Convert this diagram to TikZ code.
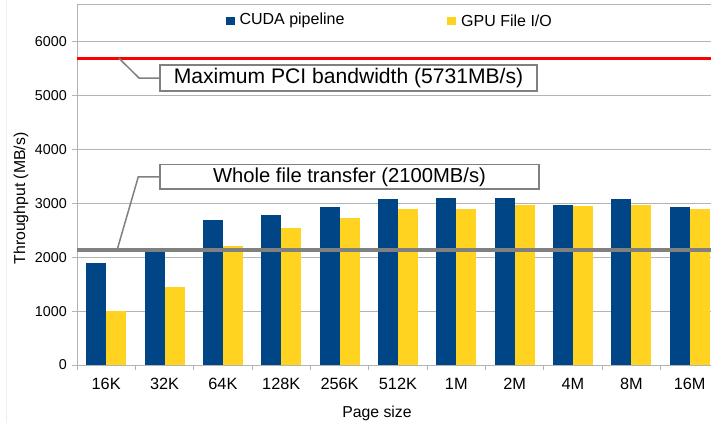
\documentclass[tikz,border=0pt]{standalone}
\usepackage{fontspec}
\setmainfont{Liberation Sans}
\definecolor{cudablue}{HTML}{004586}
\definecolor{gpuyellow}{HTML}{FFD320}
\definecolor{gridgray}{HTML}{B3B3B3}
\definecolor{calloutgray}{HTML}{808080}
\definecolor{framegray}{HTML}{EEEEEE}
\tikzset{
  gridline/.style={draw=gridgray,line width=1pt},
  bluebar/.style={fill=cudablue,draw=none},
  yellowbar/.style={fill=gpuyellow,draw=none},
  ticklabel/.style={inner sep=0pt,font=\fontsize{14.3}{16}\selectfont},
  catlabel/.style={inner sep=0pt,font=\fontsize{16.3}{18}\selectfont},
  axistitle/.style={inner sep=0pt,font=\fontsize{15.8}{18}\selectfont},
  legendtext/.style={inner sep=0pt,anchor=west,font=\fontsize{16}{18}\selectfont},
  calloutbox/.style={draw=calloutgray,line width=1.6pt,fill=white,inner sep=0pt},
  calloutline/.style={draw=calloutgray,line width=1.5pt},
}
\begin{document}
\begin{tikzpicture}[x=1pt,y=-1pt,
  declare function={yv(\v)=365-0.05393*\v; cx(\k)=77+(\k+0.5)*58.35;}]
\useasboundingbox (0,0) rectangle (711,423);
\clip (0,0) rectangle (711,423);
\fill[white] (0,0) rectangle (711,423);

% outer chart frame (faint)
\draw[framegray,line width=1pt] (6,0) -- (6,423);

% plot frame top and horizontal grid
\draw[gridline] (77,4.7) -- (720,4.7);
\foreach \v in {1000,2000,...,6000}
  \draw[gridline] (77,{yv(\v)}) -- (720,{yv(\v)});

% y axis with ticks and labels
\draw[gridline] (77,4.7) -- (77,370);
\foreach \v in {0,1000,...,6000}{
  \draw[gridline] (72,{yv(\v)}) -- (77,{yv(\v)});
  \node[ticklabel,anchor=east] (yl\v) at (67,{yv(\v)}) {\v};
}

% x axis ticks
\draw[gridline] (77,{yv(0)}) -- (720,{yv(0)});
\foreach \k in {1,...,11}
  \draw[gridline] ({77+\k*58.35},365) -- ({77+\k*58.35},370);

% bars and category labels
\foreach \lab/\b/\g [count=\i from 0] in {
  16K/1890/1004, 32K/2100/1450, 64K/2695/2212, 128K/2788/2546,
  256K/2937/2732, 512K/3085/2900, 1M/3104/2900, 2M/3104/2974,
  4M/2974/2955, 8M/3085/2974, 16M/2937/2900}{
  \fill[bluebar] ({cx(\i)-20},{yv(0)}) rectangle ({cx(\i)},{yv(\b)});
  \fill[yellowbar] ({cx(\i)},{yv(0)}) rectangle ({cx(\i)+20},{yv(\g)});
  \node[catlabel] (cat\i) at ({cx(\i)},384.3) {\lab};
}

% reference lines
\draw[red,line width=3.4pt] (77,58.3) -- (720,58.3);
\draw[calloutgray,line width=4pt] (77,250.3) -- (720,250.3);

% callouts
\node[calloutbox,minimum width=377pt,minimum height=26pt,
  font=\fontsize{21.1}{24}\selectfont] (maxbox) at (348.5,78)
  {Maximum PCI bandwidth (5731MB/s)};
\coordinate (maxtip) at (119,58.3);
\coordinate (maxbend) at (139,78);
\draw[calloutline] (maxtip) -- (maxbend) -- (maxbox.west);

\node[calloutbox,minimum width=379pt,minimum height=24.5pt,
  font=\fontsize{20.2}{24}\selectfont] (filebox) at (349.5,176.8)
  {Whole file transfer (2100MB/s)};
\coordinate (filetip) at (117,250.3);
\coordinate (filebend) at (138.3,176.8);
\draw[calloutline] (filetip) -- (filebend) -- (filebox.west);

% legend
\fill[cudablue] (226,16.7) rectangle (234.5,25.2);
\node[legendtext] (legcuda) at (239.3,20.8) {CUDA pipeline};
\fill[gpuyellow] (447,16.7) rectangle (455.5,25.2);
\node[legendtext] (leggpu) at (461,20.8) {GPU File I/O};

% axis titles
\node[axistitle,anchor=base] (xtitle) at (377,417) {Page size};
\node[axistitle,rotate=90] (ytitle) at (21,198.5) {Throughput (MB/s)};
\end{tikzpicture}
\end{document}
